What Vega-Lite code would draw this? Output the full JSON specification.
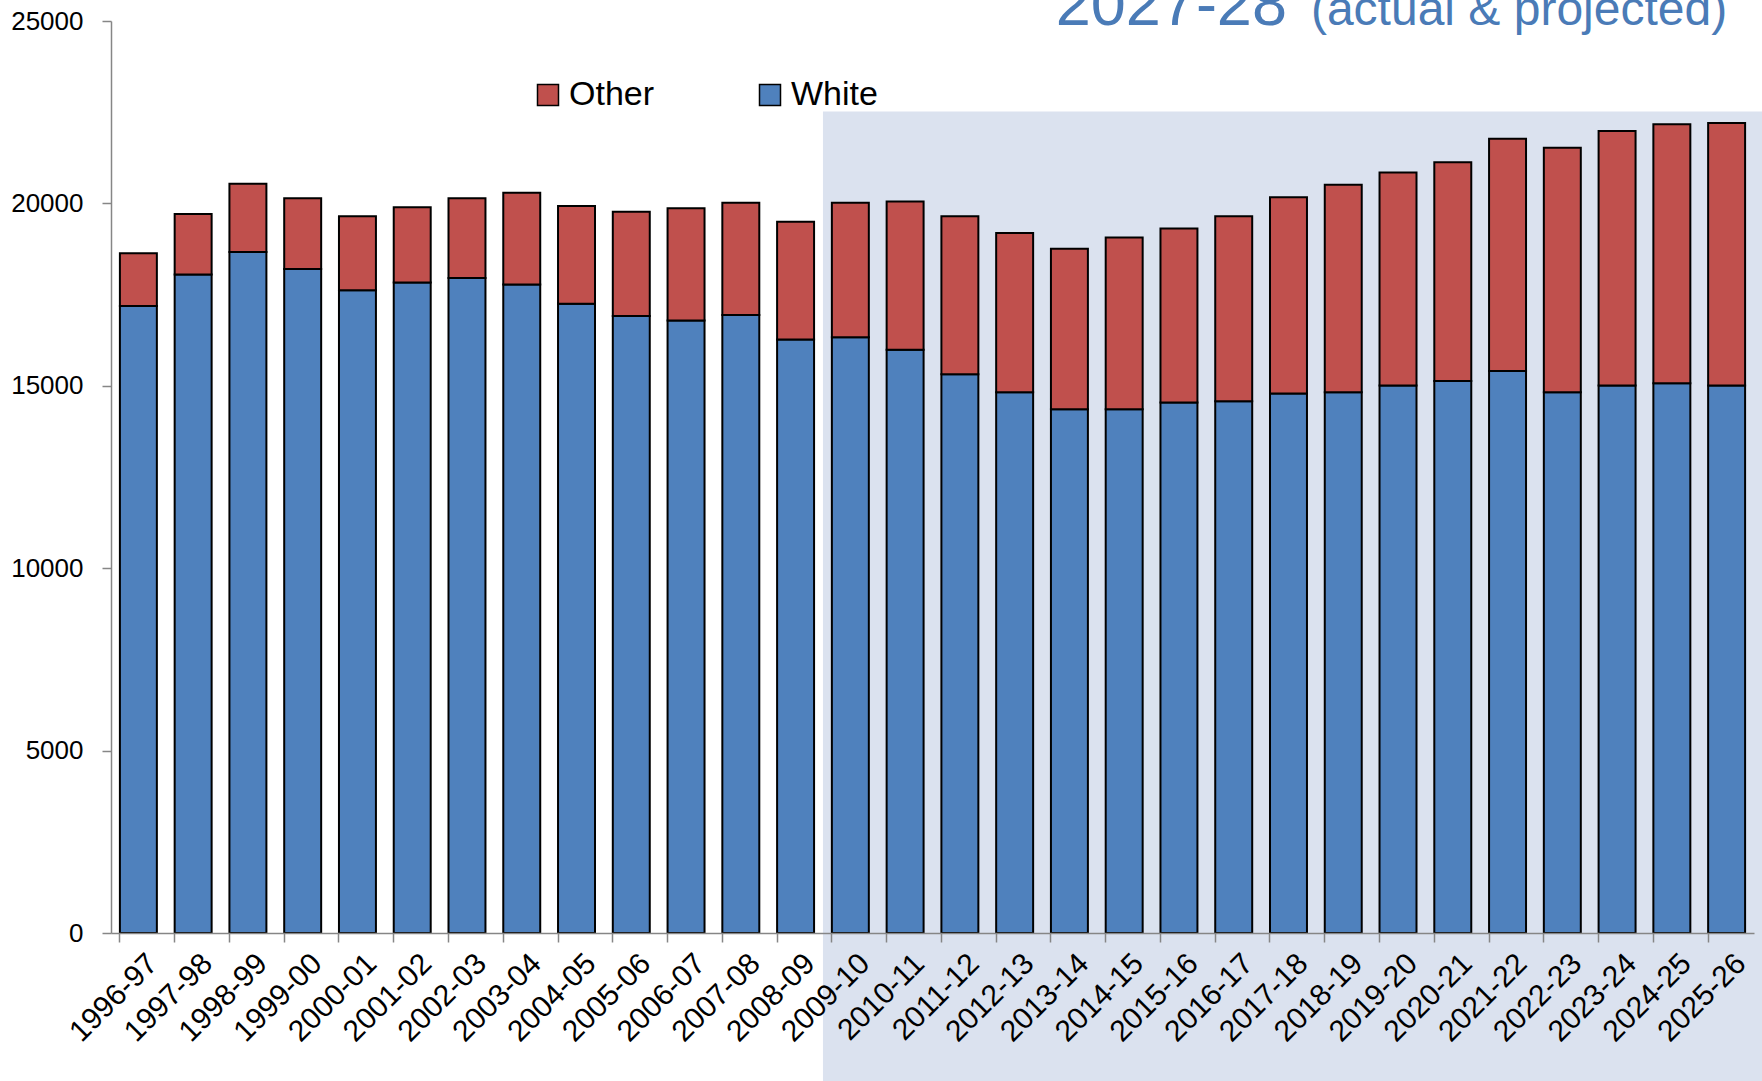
{
  "$schema": "https://vega.github.io/schema/vega-lite/v6.json",
  "width": 1643,
  "height": 912,
  "autosize": "none",
  "padding": {"left": 111, "top": 21, "right": 8, "bottom": 148},
  "background": "white",
  "config": {"view": {"stroke": null}, "font": "Liberation Sans"},
  "datasets": {
    "grads": [
      {"year": "1996-97", "group": "White", "value": 17190}, {"year": "1996-97", "group": "Other", "value": 1445},
      {"year": "1997-98", "group": "White", "value": 18050}, {"year": "1997-98", "group": "Other", "value": 1661},
      {"year": "1998-99", "group": "White", "value": 18665}, {"year": "1998-99", "group": "Other", "value": 1876},
      {"year": "1999-00", "group": "White", "value": 18204}, {"year": "1999-00", "group": "Other", "value": 1937},
      {"year": "2000-01", "group": "White", "value": 17620}, {"year": "2000-01", "group": "Other", "value": 2029},
      {"year": "2001-02", "group": "White", "value": 17835}, {"year": "2001-02", "group": "Other", "value": 2060},
      {"year": "2002-03", "group": "White", "value": 17958}, {"year": "2002-03", "group": "Other", "value": 2183},
      {"year": "2003-04", "group": "White", "value": 17774}, {"year": "2003-04", "group": "Other", "value": 2521},
      {"year": "2004-05", "group": "White", "value": 17251}, {"year": "2004-05", "group": "Other", "value": 2675},
      {"year": "2005-06", "group": "White", "value": 16913}, {"year": "2005-06", "group": "Other", "value": 2859},
      {"year": "2006-07", "group": "White", "value": 16790}, {"year": "2006-07", "group": "Other", "value": 3075},
      {"year": "2007-08", "group": "White", "value": 16943}, {"year": "2007-08", "group": "Other", "value": 3075},
      {"year": "2008-09", "group": "White", "value": 16267}, {"year": "2008-09", "group": "Other", "value": 3229},
      {"year": "2009-10", "group": "White", "value": 16328}, {"year": "2009-10", "group": "Other", "value": 3690},
      {"year": "2010-11", "group": "White", "value": 15990}, {"year": "2010-11", "group": "Other", "value": 4059},
      {"year": "2011-12", "group": "White", "value": 15314}, {"year": "2011-12", "group": "Other", "value": 4335},
      {"year": "2012-13", "group": "White", "value": 14822}, {"year": "2012-13", "group": "Other", "value": 4366},
      {"year": "2013-14", "group": "White", "value": 14360}, {"year": "2013-14", "group": "Other", "value": 4398},
      {"year": "2014-15", "group": "White", "value": 14360}, {"year": "2014-15", "group": "Other", "value": 4705},
      {"year": "2015-16", "group": "White", "value": 14545}, {"year": "2015-16", "group": "Other", "value": 4766},
      {"year": "2016-17", "group": "White", "value": 14576}, {"year": "2016-17", "group": "Other", "value": 5073},
      {"year": "2017-18", "group": "White", "value": 14791}, {"year": "2017-18", "group": "Other", "value": 5381},
      {"year": "2018-19", "group": "White", "value": 14822}, {"year": "2018-19", "group": "Other", "value": 5688},
      {"year": "2019-20", "group": "White", "value": 15006}, {"year": "2019-20", "group": "Other", "value": 5843},
      {"year": "2020-21", "group": "White", "value": 15129}, {"year": "2020-21", "group": "Other", "value": 5996},
      {"year": "2021-22", "group": "White", "value": 15406}, {"year": "2021-22", "group": "Other", "value": 6365},
      {"year": "2022-23", "group": "White", "value": 14822}, {"year": "2022-23", "group": "Other", "value": 6703},
      {"year": "2023-24", "group": "White", "value": 15006}, {"year": "2023-24", "group": "Other", "value": 6980},
      {"year": "2024-25", "group": "White", "value": 15068}, {"year": "2024-25", "group": "Other", "value": 7103},
      {"year": "2025-26", "group": "White", "value": 15006}, {"year": "2025-26", "group": "Other", "value": 7196}
    ]
  },
  "layer": [
    {
      "data": {"values": [{"region": "projected"}]},
      "mark": {"type": "rect", "color": "#DBE2EF"},
      "encoding": {
        "x": {"datum": 13, "type": "quantitative", "scale": {"domain": [0, 30]}, "axis": null},
        "x2": {"datum": 30.3},
        "y": {"datum": 22520, "type": "quantitative", "scale": {"domain": [0, 25000], "nice": false},
              "axis": {"title": null, "values": [0, 5000, 10000, 15000, 20000, 25000], "format": "d", "labelFontSize": 26, "labelColor": "black", "labelPadding": 19, "tickSize": 9, "tickColor": "#868686", "domainColor": "#868686", "grid": false, "domainWidth": 1.5, "tickWidth": 1.5, "zindex": 1}},
        "y2": {"datum": -4400}
      }
    },
    {
      "data": {"values": [{"txt": "2027-28"}]},
      "mark": {"type": "text", "align": "left", "baseline": "alphabetic", "fontSize": 63, "color": "#4A7BB7", "font": "Liberation Sans"},
      "encoding": {
        "x": {"datum": 17.25, "type": "quantitative", "scale": {"domain": [0, 30]}, "axis": null},
        "y": {"datum": 24890, "type": "quantitative", "scale": {"domain": [0, 25000], "nice": false},
              "axis": {"title": null, "values": [0, 5000, 10000, 15000, 20000, 25000], "format": "d", "labelFontSize": 26, "labelColor": "black", "labelPadding": 19, "tickSize": 9, "tickColor": "#868686", "domainColor": "#868686", "grid": false, "domainWidth": 1.5, "tickWidth": 1.5, "zindex": 1}},
        "text": {"field": "txt"}
      }
    },
    {
      "data": {"values": [{"txt": "(actual & projected)"}]},
      "mark": {"type": "text", "align": "left", "baseline": "alphabetic", "fontSize": 48, "color": "#4A7BB7", "font": "Liberation Sans"},
      "encoding": {
        "x": {"datum": 21.91, "type": "quantitative", "scale": {"domain": [0, 30]}, "axis": null},
        "y": {"datum": 24890, "type": "quantitative", "scale": {"domain": [0, 25000], "nice": false},
              "axis": {"title": null, "values": [0, 5000, 10000, 15000, 20000, 25000], "format": "d", "labelFontSize": 26, "labelColor": "black", "labelPadding": 19, "tickSize": 9, "tickColor": "#868686", "domainColor": "#868686", "grid": false, "domainWidth": 1.5, "tickWidth": 1.5, "zindex": 1}},
        "text": {"field": "txt"}
      }
    },
    {
      "data": {"name": "grads"},
      "mark": {"type": "bar", "stroke": "black", "strokeWidth": 2},
      "encoding": {
        "x": {"field": "year", "type": "nominal", "sort": null,
              "scale": {"paddingInner": 0.325, "paddingOuter": 0.1625},
              "axis": {"title": null, "labelAngle": -45, "labelFontSize": 30, "labelColor": "black", "labelPadding": 6, "labelOffset": 4, "tickSize": 9, "tickColor": "#868686", "domainColor": "#868686", "bandPosition": 0, "domainWidth": 1.5, "tickWidth": 1.5, "grid": false, "zindex": 1}},
        "y": {"field": "value", "type": "quantitative", "stack": "zero", "scale": {"domain": [0, 25000], "nice": false},
              "axis": {"title": null, "values": [0, 5000, 10000, 15000, 20000, 25000], "format": "d", "labelFontSize": 26, "labelColor": "black", "labelPadding": 19, "tickSize": 9, "tickColor": "#868686", "domainColor": "#868686", "grid": false, "domainWidth": 1.5, "tickWidth": 1.5, "zindex": 1}},
        "color": {"field": "group", "type": "nominal",
                  "scale": {"domain": ["Other", "White"], "range": ["#C0504D", "#4F81BD"]},
                  "legend": {"title": null, "orient": "none", "legendX": 420, "legendY": 57, "direction": "horizontal", "symbolType": "square", "symbolSize": 441, "symbolStrokeColor": "black", "symbolStrokeWidth": 1.5, "symbolOpacity": 1, "labelFontSize": 34, "labelColor": "black", "labelOffset": 4, "columnPadding": 98, "padding": 0}},
        "order": {"field": "group", "sort": "descending"}
      }
    }
  ],
  "resolve": {"scale": {"x": "independent"}, "axis": {"x": "independent"}}
}
